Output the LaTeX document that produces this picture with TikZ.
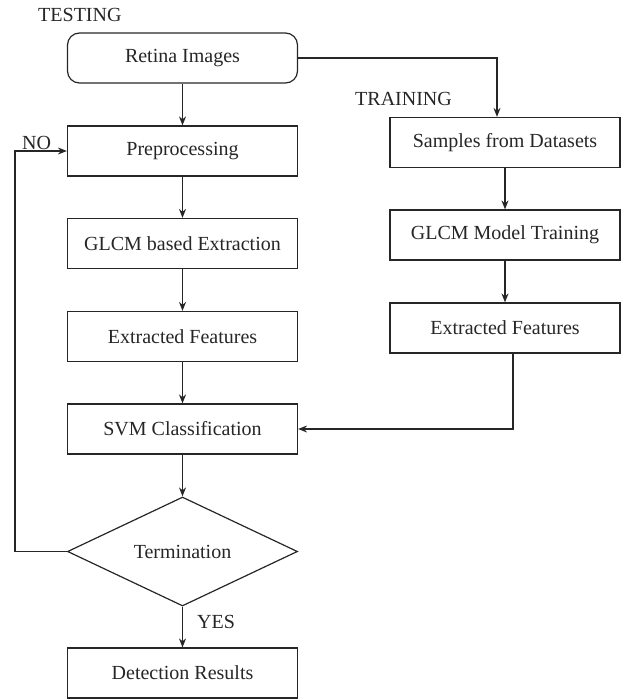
\documentclass[tikz,border=0pt]{standalone}
\usepackage{fontspec}
\setmainfont{Liberation Serif}
\usetikzlibrary{shapes.geometric,arrows.meta,positioning}
\begin{document}
\begin{tikzpicture}[x=1pt,y=-1pt,
  every node/.style={font=\fontsize{20}{24}\selectfont, text=black!85},
  box/.style={draw=black!85, line width=1.2pt, minimum width=230pt, minimum height=50pt, inner sep=0pt},
  rbox/.style={box, rounded corners=12pt},
  dia/.style={draw=black!85, line width=1.2pt, diamond, aspect=2.11, minimum width=230pt, minimum height=109pt, inner sep=0pt},
  conn/.style={draw=black!85, line width=1.2pt},
  arr/.style={conn, -{Stealth[length=9pt,width=7pt]}},
  lbl/.style={inner sep=0pt, anchor=base west}]
\useasboundingbox (0,0) rectangle (623,699);
% left column
\node[rbox] (retina) at (182.5,58) {Retina Images};
\node[box] (pre) at (182.5,151) {Preprocessing};
\node[box] (glcm) at (182.5,243.5) {GLCM based Extraction};
\node[box] (ext) at (182.5,336.5) {Extracted Features};
\node[box] (svm) at (182.5,429) {SVM Classification};
\node[dia] (term) at (182.5,551.5) {Termination};
\node[box] (det) at (182.5,673) {Detection Results};
% right column
\node[box] (samp) at (505,142.5) {Samples from Datasets};
\node[box] (gmt) at (505,235) {GLCM Model Training};
\node[box] (ext2) at (505,328) {Extracted Features};
% labels
\node[lbl] (testing) at (38,21) {TESTING};
\node[lbl] (training) at (355,105) {TRAINING};
\node[lbl] (no) at (22,149) {NO};
\node[lbl] (yes) at (197,628) {YES};
% coordinates
\coordinate (c1) at (497,58);
\coordinate (c2) at (513,429);
\coordinate (c3) at (15,551.5);
\coordinate (c4) at (15,151);
% connectors
\draw[arr] (retina) -- (pre);
\draw[arr] (pre) -- (glcm);
\draw[arr] (glcm) -- (ext);
\draw[arr] (ext) -- (svm);
\draw[arr] (svm) -- (term);
\draw[arr] (term) -- (det);
\draw[arr] (retina.east) -- (c1) -- (c1 |- samp.north);
\draw[arr] (samp) -- (gmt);
\draw[arr] (gmt) -- (ext2);
\draw[arr] (c2 |- ext2.south) -- (c2) -- (svm.east);
\draw[arr] (term.west) -- (c3) -- (c4) -- (pre.west);
\end{tikzpicture}
\end{document}
